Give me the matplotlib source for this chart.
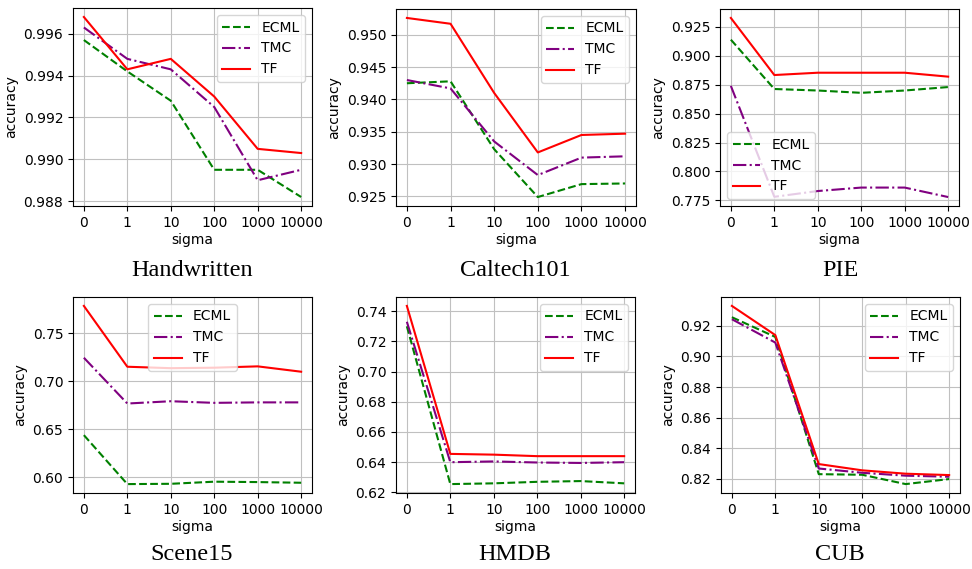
import matplotlib
matplotlib.use("Agg")
import matplotlib.pyplot as plt

# -----------------------------------------
# Data
# -----------------------------------------
sigma_labels = ["0", "1", "10", "100", "1000", "10000"]
methods = ["ECML", "TMC", "TF"]
datasets = ["Handwritten", "Caltech101", "PIE", "Scene15", "HMDB", "CUB"]

handwritten_ecml = [0.9957, 0.9942, 0.9928, 0.9895, 0.9895, 0.9882]
handwritten_tmc = [0.9963, 0.9948, 0.9943, 0.9925, 0.9890, 0.9895]
handwritten_tf = [0.9968, 0.9943, 0.9948, 0.9930, 0.9905, 0.9903]

caltech_ecml = [0.9425, 0.9428, 0.9323, 0.9249, 0.9269, 0.9270]
caltech_tmc = [0.9430, 0.9417, 0.9335, 0.9283, 0.9310, 0.9312]
caltech_tf = [0.9526, 0.9517, 0.9410, 0.9318, 0.9345, 0.9347]

pie_ecml = [0.914, 0.8713, 0.870, 0.868, 0.870, 0.873]
pie_tmc = [0.874, 0.778, 0.783, 0.786, 0.786, 0.7778]
pie_tf = [0.9328, 0.8834, 0.8854, 0.8854, 0.8854, 0.882]

scene_ecml = [0.6438, 0.5927, 0.5930, 0.5952, 0.5948, 0.5941]
scene_tmc = [0.7246, 0.6768, 0.6792, 0.6775, 0.6780, 0.6780]
scene_tf = [0.7787, 0.7152, 0.7137, 0.7142, 0.7156, 0.7100]

hmdb_ecml = [0.730, 0.6255, 0.626, 0.627, 0.6275, 0.626]
hmdb_tmc = [0.733, 0.640, 0.6405, 0.6398, 0.6395, 0.640]
hmdb_tf = [0.7435, 0.6455, 0.645, 0.644, 0.644, 0.644]

cub_ecml = [0.9257, 0.9128, 0.8230, 0.8226, 0.8165, 0.8198]
cub_tmc = [0.9244, 0.9091, 0.8267, 0.8239, 0.8220, 0.8213]
cub_tf = [0.9331, 0.9140, 0.8296, 0.8255, 0.8233, 0.8224]

all_series = [
    (handwritten_ecml, handwritten_tmc, handwritten_tf),
    (caltech_ecml, caltech_tmc, caltech_tf),
    (pie_ecml, pie_tmc, pie_tf),
    (scene_ecml, scene_tmc, scene_tf),
    (hmdb_ecml, hmdb_tmc, hmdb_tf),
    (cub_ecml, cub_tmc, cub_tf),
]
legend_locs = ["upper right", "upper right", "lower left",
               "upper center", "upper right", "upper right"]

styles = [("green", "--"), ("purple", "-."), ("red", "-")]

# -----------------------------------------
# Layout (pixel boxes -> figure fractions)
# -----------------------------------------
W, H = 972, 569
fig = plt.figure(figsize=(W / 100, H / 100), dpi=100)

boxes = [
    (73, 8, 312, 206), (396, 9, 636, 206), (720, 9, 959, 206),
    (73, 297, 312, 493), (396, 297, 635, 493), (721, 297, 960, 493),
]
caption_pos = [(192, 270), (515, 270), (840, 270),
               (192, 555), (515, 555), (840, 555)]

x = list(range(len(sigma_labels)))
for i, (l, t, r, b) in enumerate(boxes):
    ax = fig.add_axes([l / W, 1 - b / H, (r - l) / W, (b - t) / H])
    for series, name, (col, ls) in zip(all_series[i], methods, styles):
        ax.plot(x, series, color=col, linestyle=ls, linewidth=1.5, label=name)
    ax.set_xticks(x)
    ax.set_xticklabels(sigma_labels)
    ax.set_xlabel("sigma", fontsize=10, labelpad=2)
    ax.set_ylabel("accuracy", fontsize=10, labelpad=4)
    ax.tick_params(labelsize=10)
    ax.grid(True, color="#c0c0c0", linewidth=0.8)
    ax.legend(loc=legend_locs[i], fontsize=10)
    cx, cy = caption_pos[i]
    fig.text(cx / W, 1 - cy / H, datasets[i], ha="center", va="center",
             family="Liberation Serif", fontsize=17.5)

fig.savefig("out.png", dpi=100)
